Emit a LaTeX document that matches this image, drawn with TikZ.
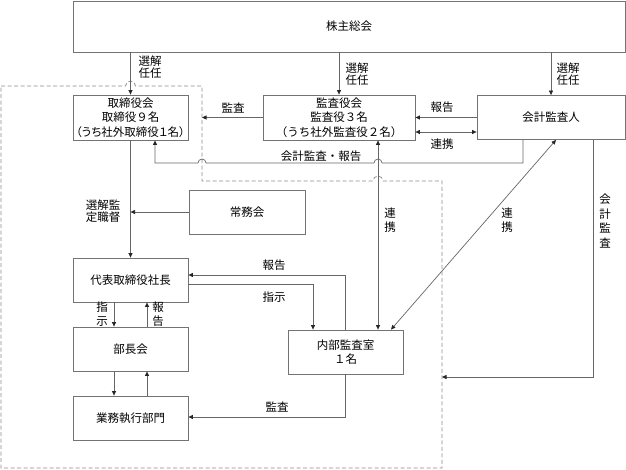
\documentclass[tikz,border=0pt]{standalone}
\usepackage{fontspec}
\setmainfont{Noto Sans CJK JP}
\usetikzlibrary{arrows.meta,calc}
\newcommand{\prop}{\addfontfeature{RawFeature=+palt}}

\begin{document}
\begin{tikzpicture}[x=1pt,y=-1pt,
		box/.style={draw=black!55, line width=0.8pt, minimum width=115pt, minimum height=44pt, inner sep=1pt, align=center, font=\fontsize{11.5}{14.5}\selectfont},
		arr/.style={draw=black!60, line width=0.7pt, -{Triangle[length=4.5pt,width=4pt,color=black!85]}},
		lnk/.style={draw=black!60, line width=0.7pt, {Triangle[length=4.5pt,width=4pt,color=black!85]}-{Triangle[length=4.5pt,width=4pt,color=black!85]}},
		lbl/.style={inner sep=0pt, align=center, font=\fontsize{11.5}{12}\selectfont},
		vlbl/.style={inner sep=0pt, align=center, font=\fontsize{11.5}{14.5}\selectfont},
		zone/.style={draw=black!45, line width=0.8pt, dash pattern=on 4pt off 2.5pt}]
			%%%%% START %%%%%
			\useasboundingbox (0,0) rectangle (626,469);
			
			\node[box, minimum width=552pt, minimum height=51pt] (soukai) at (349,26.5) {株主総会};
			
			\node[box, minimum height=45pt] (torishimari) at (130.5,117.5) {取締役会\\取締役９名\\{\prop （うち社外取締役１名）}};
			\node[box, minimum width=152pt, minimum height=45pt] (kansayaku) at (339,117.5) {監査役会\\監査役３名\\（うち社外監査役２名）};
			\node[box, minimum width=148pt, minimum height=44pt] (kaikei) at (551,117.5) {会計監査人};
			
			\node[box, minimum width=116pt] (joumu) at (247,212) {常務会};
			\node[box] (shachou) at (130.5,280) {代表取締役社長};
			\node[box] (buchou) at (130.5,349) {部長会};
			\node[box] (gyoumu) at (130.5,418) {業務執行部門};
			\node[box] (naibu) at (345.5,352) {内部監査室\\１名};
			
			% dashed zone
			\coordinate (zA) at (1,86);
			\coordinate (zB) at (202,86);
			\coordinate (zC) at (202,181);
			\coordinate (zD) at (442,181);
			\coordinate (zE) at (442,468);
			\coordinate (zF) at (1,468);
			\draw[zone] (zA) -- (125.5,86) arc (180:360:5) -- (zB) -- (zC) -- (373,181) arc (180:360:5) -- (zD) -- (zE) -- (zF) -- cycle;
			
			% shareholders
			\draw[arr] (soukai.south -| torishimari.north) -- (torishimari.north);
			\draw[arr] (soukai.south -| kansayaku.north) -- (kansayaku.north);
			\draw[arr] (soukai.south -| kaikei.north) -- (kaikei.north);
			\node[lbl] (l_sen1) at (150,67) {選解\\任任};
			\node[lbl] (l_sen2) at (357,74) {選解\\任任};
			\node[lbl] (l_sen3) at (568,74) {選解\\任任};
			
			% auditors
			\draw[arr] (kansayaku.west) -- (kansayaku.west -| zB);
			\node[lbl] (l_kansa1) at (233,108) {監査};
			\draw[arr] (kaikei.west) -- (kaikei.west -| kansayaku.east);
			\node[lbl] (l_houkoku1) at (442,107) {報告};
			\draw[lnk] (kansayaku.east |- 0,132) -- (kaikei.west |- 0,132);
			\node[lbl] (l_renkei1) at (442,144) {連携};
			
			\draw[arr] (kaikei.south -| 523,0) |- (382,163) arc (0:-180:4) -- (206,163) arc (0:-180:4) -- (155,163) -- (torishimari.south -| 155,0);
			\node[lbl] (l_kaikei1) at (321,156) {会計監査・報告};
			
			\draw[lnk] (kansayaku.south -| 378,0) -- (naibu.north -| 378,0);
			\node[vlbl] (l_renkei2) at (390,220) {連\\携};
			\draw[lnk] (kaikei.south -| 556,0) -- (naibu.north -| 391,0);
			\node[vlbl] (l_renkei3) at (507,220) {連\\携};
			\draw[arr] (kaikei.south -| 593,0) |- (zE |- 0,377);
			\node[vlbl] (l_kaikei2) at (605,221) {会\\計\\監\\査};
			
			% management
			\draw[arr] (joumu.west) -- (joumu.west -| torishimari.south);
			\node[lbl] (l_senkan) at (103,211) {選解監\\定職督};
			\draw[arr] (torishimari.south) -- (shachou.north);
			
			\draw[arr] (naibu.north) |- (shachou.east |- 0,275);
			\node[lbl] (l_houkoku2) at (274,265) {報告};
			\draw[arr] (shachou.east |- 0,284) -| (naibu.north -| 313,0);
			\node[lbl] (l_shiji1) at (274,297) {指示};
			
			\draw[arr] (shachou.south -| 114,0) -- (buchou.north -| 114,0);
			\draw[arr] (buchou.north -| 147,0) -- (shachou.south -| 147,0);
			\node[vlbl] (l_shiji2) at (102,314) {指\\示};
			\node[vlbl] (l_houkoku3) at (158,314) {報\\告};
			
			\draw[arr] (buchou.south -| 114,0) -- (gyoumu.north -| 114,0);
			\draw[arr] (gyoumu.north -| 147,0) -- (buchou.south -| 147,0);
			
			\draw[arr] (naibu.south) |- (gyoumu.east |- 0,417);
			\node[lbl] (l_kansa2) at (277,407) {監査};
			%%%%% END %%%%%
		\end{tikzpicture}
\end{document}
